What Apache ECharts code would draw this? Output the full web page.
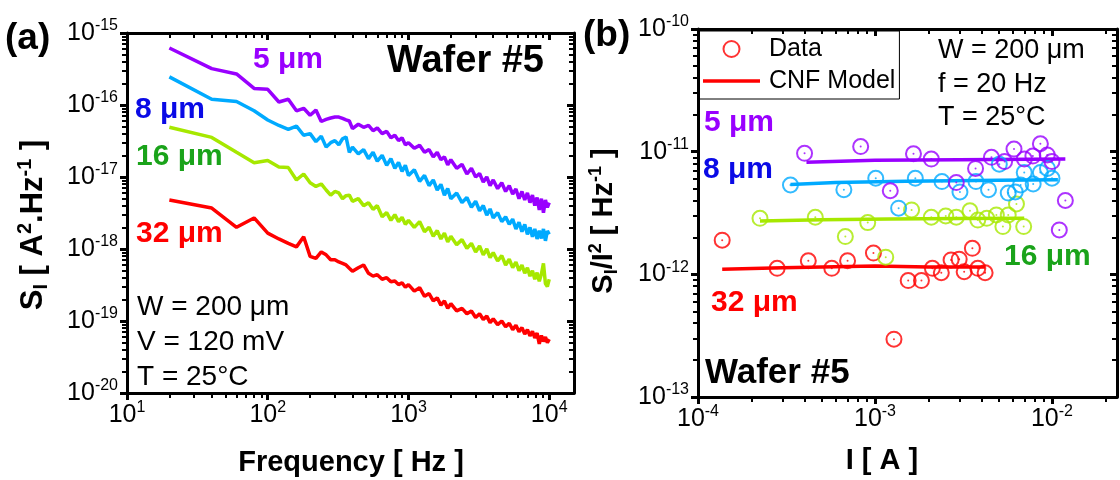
<!DOCTYPE html>
<html><head><meta charset="utf-8">
<script src="https://cdn.jsdelivr.net/npm/echarts@6/dist/echarts.min.js"></script>
<style>html,body{margin:0;padding:0;background:#fff}#c{width:1120px;height:480px}</style>
</head><body><div id="c"></div>
<script>
// ---------- Panel (a) data : noise spectra ----------
const freqA = [20,40,60,80,100,120,140,160,180,200,220,240,260,280,300,320,340,360,380,400,
  440,480,520,560,600,650,700,750,800,850,900,950,1000,
  1100,1200,1300,1400,1500,1600,1700,1800,1900,2000,
  2200,2400,2600,2800,3000,3200,3400,3600,3800,4000,
  4300,4600,4900,5200,5500,5800,6100,6400,6700,7000,
  7300,7600,7900,8200,8500,8800,9100,9400,9700,10000];
const s5 = [6.2e-16,3.2e-16,2.7e-16,1.7e-16,1.65e-16,1.1e-16,1.2e-16,8.3e-17,9.0e-17,7.2e-17,8.5e-17,5.9e-17,6.3e-17,6.6e-17,6.8e-17,6.8e-17,6.5e-17,6.2e-17,6.0e-17,4.7e-17,
  5.4e-17,4.9e-17,5.2e-17,4.4e-17,4.8e-17,4.0e-17,4.3e-17,3.5e-17,3.8e-17,3.2e-17,3.5e-17,2.8e-17,3.0e-17,
  2.5e-17,2.75e-17,2.2e-17,2.4e-17,1.9e-17,2.2e-17,1.74e-17,1.9e-17,1.48e-17,1.74e-17,
  1.32e-17,1.5e-17,1.1e-17,1.32e-17,1.0e-17,1.12e-17,8.5e-18,1.0e-17,7.6e-18,9.1e-18,
  6.9e-18,8.3e-18,6.3e-18,7.6e-18,5.8e-18,6.8e-18,5.0e-18,6.3e-18,4.8e-18,6.0e-18,
  4.4e-18,5.6e-18,4.0e-18,5.2e-18,3.5e-18,5.0e-18,3.2e-18,4.8e-18,3.8e-18,4.4e-18];
const s8 = [2.46e-16,1.2e-16,1.12e-16,8.3e-17,6.2e-17,5.2e-17,4.6e-17,5.1e-17,3.8e-17,4.0e-17,3.1e-17,3.7e-17,2.6e-17,3.0e-17,3.2e-17,2.8e-17,3.4e-17,3.6e-17,2.2e-17,2.6e-17,
  2.1e-17,2.4e-17,1.8e-17,2.2e-17,1.66e-17,2.0e-17,1.45e-17,1.8e-17,1.32e-17,1.6e-17,1.2e-17,1.45e-17,1.05e-17,
  1.26e-17,8.7e-18,1.05e-17,7.6e-18,9.1e-18,6.6e-18,7.9e-18,5.6e-18,6.9e-18,5.0e-18,
  6.0e-18,4.4e-18,5.2e-18,3.8e-18,4.6e-18,3.4e-18,4.0e-18,2.95e-18,3.6e-18,2.7e-18,
  3.2e-18,2.4e-18,2.8e-18,2.2e-18,2.6e-18,1.9e-18,2.35e-18,1.74e-18,2.2e-18,1.6e-18,
  2.0e-18,1.48e-18,1.9e-18,1.38e-18,1.8e-18,1.4e-18,1.9e-18,1.3e-18,1.78e-18,1.6e-18];
const s16 = [4.9e-17,3.55e-17,2.2e-17,1.58e-17,1.7e-17,1.38e-17,1.35e-17,9.1e-18,1.1e-17,8.3e-18,7.4e-18,8.0e-18,6.6e-18,5.6e-18,6.3e-18,6.0e-18,5.0e-18,5.5e-18,5.6e-18,4.6e-18,
  5.0e-18,4.0e-18,4.4e-18,3.55e-18,4.0e-18,2.8e-18,3.2e-18,2.5e-18,3.0e-18,2.4e-18,2.75e-18,2.2e-18,2.5e-18,
  2.0e-18,2.4e-18,1.74e-18,2.0e-18,1.5e-18,1.8e-18,1.38e-18,1.66e-18,1.26e-18,1.5e-18,
  1.15e-18,1.35e-18,1.02e-18,1.2e-18,9.1e-19,1.1e-18,8.3e-19,1.0e-18,7.6e-19,8.9e-19,
  6.8e-19,8.1e-19,6.0e-19,7.2e-19,5.5e-19,6.6e-19,5.0e-19,6.0e-19,4.6e-19,5.5e-19,
  4.2e-19,5.0e-19,3.8e-19,4.7e-19,3.55e-19,4.5e-19,6.3e-19,3.3e-19,3.0e-19,3.8e-19];
const s32 = [4.8e-18,3.7e-18,2.0e-18,2.7e-18,1.66e-18,1.38e-18,1.2e-18,1.07e-18,1.48e-18,7.9e-19,7.4e-19,9.1e-19,8.3e-19,7.1e-19,7.1e-19,6.6e-19,6.3e-19,6.0e-19,5.4e-19,4.9e-19,
  5.5e-19,6.0e-19,4.6e-19,4.2e-19,4.4e-19,3.8e-19,4.0e-19,3.5e-19,3.6e-19,3.2e-19,3.4e-19,2.95e-19,3.2e-19,
  2.6e-19,2.9e-19,2.2e-19,2.4e-19,1.9e-19,2.1e-19,1.66e-19,1.9e-19,1.5e-19,1.74e-19,
  1.38e-19,1.5e-19,1.26e-19,1.38e-19,1.12e-19,1.26e-19,1.05e-19,1.17e-19,9.5e-20,1.07e-19,
  8.9e-20,1.0e-19,8.3e-20,9.3e-20,7.6e-20,8.7e-20,7.1e-20,8.1e-20,6.6e-20,7.6e-20,
  6.2e-20,7.2e-20,5.8e-20,6.8e-20,4.8e-20,6.3e-20,5.2e-20,6.0e-20,5.0e-20,5.6e-20];

// ---------- Panel (b) data : normalized noise vs current ----------
const i5 = [4.0e-4,8.3e-4,1.22e-3,1.65e-3,2.08e-3,2.88e-3,3.7e-3,4.55e-3,5.4e-3,6.1e-3,6.98e-3,7.8e-3,8.6e-3,9.4e-3,1.0e-2,1.1e-2,1.19e-2];
const v5 = [9.7e-12,1.1e-11,4.8e-12,9.6e-12,8.7e-12,5.6e-12,7.3e-12,9.0e-12,8.3e-12,1.05e-11,8.7e-12,9.2e-12,1.16e-11,9.4e-12,8.3e-12,2.3e-12,4.0e-12];
const i8 = [3.33e-4,6.67e-4,1.01e-3,1.36e-3,1.69e-3,2.39e-3,3.02e-3,3.72e-3,4.38e-3,5.04e-3,5.66e-3,6.2e-3,6.65e-3,6.97e-3,7.83e-3,8.6e-3,9.43e-3,1.0e-2];
const v8 = [5.35e-12,4.9e-12,6.07e-12,3.46e-12,6.07e-12,5.7e-12,4.7e-12,5.7e-12,4.9e-12,7.9e-12,4.6e-12,4.7e-12,5.35e-12,6.75e-12,5.46e-12,6.75e-12,7.3e-12,6.07e-12];
const i16 = [2.24e-4,4.6e-4,6.8e-4,9.1e-4,1.15e-3,1.61e-3,2.08e-3,2.51e-3,2.88e-3,3.44e-3,3.81e-3,4.28e-3,4.85e-3,5.28e-3,5.66e-3,6.3e-3,6.92e-3];
const v16 = [2.86e-12,2.92e-12,2.03e-12,2.64e-12,1.38e-12,3.35e-12,2.92e-12,2.99e-12,2.92e-12,3.3e-12,2.77e-12,2.86e-12,3.05e-12,2.45e-12,3.05e-12,3.75e-12,2.45e-12];
const i32 = [1.37e-4,2.8e-4,4.2e-4,5.7e-4,7.0e-4,9.8e-4,1.28e-3,1.54e-3,1.83e-3,2.11e-3,2.37e-3,2.69e-3,2.99e-3,3.19e-3,3.55e-3,3.81e-3,4.19e-3];
const v32 = [1.9e-12,1.12e-12,1.29e-12,1.12e-12,1.29e-12,1.49e-12,2.96e-13,8.9e-13,8.9e-13,1.12e-12,1.03e-12,1.31e-12,1.33e-12,1.05e-12,1.63e-12,1.12e-12,1.03e-12];
// CNF model curves
const m5I = [4.1e-4,1e-3,3e-3,1.19e-2];            const m5V = [8.2e-12,8.5e-12,8.6e-12,8.7e-12];
const m8I = [3.33e-4,6e-4,1.5e-3,5e-3,1.08e-2];    const m8V = [5.4e-12,5.6e-12,5.75e-12,5.85e-12,5.9e-12];
const m16I = [2.24e-4,5e-4,1.2e-3,3e-3,6.97e-3];   const m16V = [2.72e-12,2.78e-12,2.83e-12,2.85e-12,2.86e-12];
const m32I = [1.37e-4,3e-4,1e-3,2e-3,4.19e-3];     const m32V = [1.1e-12,1.13e-12,1.17e-12,1.15e-12,1.15e-12];

// ---------- ticks ----------
const xTicksA = [10,100,1000,10000];
const yTicksA = [1e-20,1e-19,1e-18,1e-17,1e-16,1e-15];
const xTicksB = [1e-4,1e-3,1e-2];
const yTicksB = [1e-13,1e-12,1e-11,1e-10];

const FONT = 'Liberation Sans, Arial, Helvetica, sans-serif';
const cP = '#9900ff', cB = '#00aaff', cG = '#a6e800', cR = '#ff0000';
const lP = '#9900ff', lB = '#0a0ae6', lG = '#1aa31a', lR = '#ff0000';

function minorTicks(majors, max) {
  const out = [];
  majors.forEach(m => { for (let k = 2; k <= 9; k++) { if (k * m <= max) out.push(k * m); } });
  return out;
}
function supLabel(v) { const e = Math.round(Math.log10(v)); return '{n|10}{s|' + e + '}'; }
const labelRich = {
  n: {fontSize: 25, fontFamily: FONT, color: '#000', lineHeight: 30},
  s: {fontSize: 16, fontFamily: FONT, color: '#000', verticalAlign: 'top', lineHeight: 16}
};
function axisSet(dim, gi, min, max, majors) {
  const isX = dim === 'x';
  const minors = minorTicks(majors, max);
  const p0 = isX ? 'bottom' : 'left', p1 = isX ? 'top' : 'right';
  const base = {type: 'log', logBase: 10, gridIndex: gi, min, max, splitLine: {show: false}, silent: true};
  const line = {show: true, onZero: false, lineStyle: {color: '#000', width: 3}};
  return [
    Object.assign({}, base, {position: p0, axisLine: line,
      axisTick: {show: true, customValues: majors, length: 7, inside: false, lineStyle: {color: '#000', width: 3}},
      axisLabel: {show: true, customValues: majors, formatter: supLabel, rich: labelRich, margin: isX ? 7 : 9}}),
    Object.assign({}, base, {position: p0, axisLine: {show: false, onZero: false},
      axisTick: {show: true, customValues: minors, length: 5, inside: false, lineStyle: {color: '#000', width: 2}},
      axisLabel: {show: false}}),
    Object.assign({}, base, {position: p1, axisLine: line,
      axisTick: {show: true, customValues: majors, length: 7, inside: true, lineStyle: {color: '#000', width: 3}},
      axisLabel: {show: false}}),
    Object.assign({}, base, {position: p1, axisLine: {show: false, onZero: false},
      axisTick: {show: true, customValues: minors, length: 5, inside: true, lineStyle: {color: '#000', width: 2}},
      axisLabel: {show: false}})
  ];
}

function lineA(name, ys, c) {
  return {name, type: 'line', xAxisIndex: 0, yAxisIndex: 0, data: freqA.map((f, i) => [f, ys[i]]),
    symbol: 'none', showSymbol: false, lineStyle: {color: c, width: 3.5}, itemStyle: {color: c}, z: 3, silent: true};
}
function scat(name, xs, ys, c) {
  const d = xs.map((x, i) => [x, ys[i]]);
  return [
    {name, type: 'scatter', xAxisIndex: 4, yAxisIndex: 4, data: d, symbol: 'circle', symbolSize: 15,
      itemStyle: {color: 'rgba(0,0,0,0)', borderColor: c, borderWidth: 2}, z: 4, silent: true},
    {name: name + ' dot', type: 'scatter', xAxisIndex: 4, yAxisIndex: 4, data: d, symbol: 'circle', symbolSize: 2,
      itemStyle: {color: c}, z: 4, silent: true}
  ];
}
function model(name, xs, ys, c) {
  return {name, type: 'line', xAxisIndex: 4, yAxisIndex: 4, data: xs.map((x, i) => [x, ys[i]]),
    symbol: 'none', showSymbol: false, lineStyle: {color: c, width: 3.5}, itemStyle: {color: c}, z: 3, silent: true};
}
function txt(x, y, text, o) {
  o = o || {};
  const st = {text, fill: o.color || '#000', fontSize: o.size || 28, fontWeight: o.bold ? 'bold' : 'normal',
    fontFamily: FONT, align: o.align || 'left', verticalAlign: 'middle',
    textAlign: o.align || 'left', textVerticalAlign: 'middle'};
  if (o.rich) st.rich = o.rich;
  return {type: 'text', x, y, rotation: o.rot || 0, z: 100, silent: true, style: st};
}
const titleRichA = {
  b: {fontSize: 31, fontWeight: 'bold', fontFamily: FONT, lineHeight: 36},
  sub: {fontSize: 20, fontWeight: 'bold', fontFamily: FONT, lineHeight: 20, verticalAlign: 'bottom'},
  sup: {fontSize: 20, fontWeight: 'bold', fontFamily: FONT, lineHeight: 20, verticalAlign: 'top'}
};
const titleRichB = {
  b: {fontSize: 29, fontWeight: 'bold', fontFamily: FONT, lineHeight: 34},
  sub: {fontSize: 18, fontWeight: 'bold', fontFamily: FONT, lineHeight: 18, verticalAlign: 'bottom'},
  sup: {fontSize: 18, fontWeight: 'bold', fontFamily: FONT, lineHeight: 18, verticalAlign: 'top'}
};

const xAxes = [].concat(axisSet('x', 0, 10, 15000, xTicksA), axisSet('x', 1, 1e-4, 0.0233, xTicksB));
const yAxes = [].concat(axisSet('y', 0, 1e-20, 1e-15, yTicksA), axisSet('y', 1, 1e-13, 1e-10, yTicksB));

const series = [
  lineA('32 um', s32, cR), lineA('16 um', s16, cG), lineA('8 um', s8, cB), lineA('5 um', s5, cP),
  model('CNF Model', m32I, m32V, cR), model('m16', m16I, m16V, cG), model('m8', m8I, m8V, cB), model('m5', m5I, m5V, cP)
].concat(scat('Data', i32, v32, cR), scat('d16', i16, v16, cG), scat('d8', i8, v8, cB), scat('d5', i5, v5, cP));

const graphics = [
  txt(5, 39, '(a)', {bold: true, size: 37}),
  txt(253, 60, '5 μm', {bold: true, size: 30, color: lP}),
  txt(135, 110, '8 μm', {bold: true, size: 30, color: lB}),
  txt(136, 157, '16 μm', {bold: true, size: 30, color: lG}),
  txt(136, 234, '32 μm', {bold: true, size: 30, color: lR}),
  txt(544, 62, 'Wafer #5', {bold: true, size: 38, align: 'right'}),
  txt(137, 307, 'W = 200 μm', {size: 28}),
  txt(137, 342, 'V = 120 mV', {size: 28}),
  txt(137, 377, 'T = 25°C', {size: 28}),
  txt(351, 463, 'Frequency [ Hz ]', {bold: true, size: 29, align: 'center'}),
  txt(33, 225, '{b|S}{sub|I}{b| [ A}{sup|2}{b|.Hz}{sup|-1}{b| ]}', {bold: true, size: 31, align: 'center', rot: Math.PI / 2, rich: titleRichA}),
  txt(583, 36, '(b)', {bold: true, size: 37}),
  txt(704, 123, '5 μm', {bold: true, size: 30, color: lP}),
  txt(703, 170, '8 μm', {bold: true, size: 30, color: lB}),
  txt(1004, 257, '16 μm', {bold: true, size: 30, color: lG}),
  txt(711, 303, '32 μm', {bold: true, size: 30, color: lR}),
  txt(705, 373, 'Wafer #5', {bold: true, size: 35}),
  txt(938, 51, 'W = 200 μm', {size: 27}),
  txt(938, 85, 'f = 20 Hz', {size: 27}),
  txt(938, 118, 'T = 25°C', {size: 27}),
  txt(882, 461, 'I [ A ]', {bold: true, size: 29, align: 'center'}),
  txt(604, 221, '{b|S}{sub|I}{b|/I}{sup|2}{b| [ Hz}{sup|-1}{b| ]}', {bold: true, size: 29, align: 'center', rot: Math.PI / 2, rich: titleRichB})
];

const chart = echarts.init(document.getElementById('c'), null, {renderer: 'canvas', devicePixelRatio: 1});
chart.setOption({
  animation: false,
  backgroundColor: '#fff',
  grid: [
    {left: 127, top: 33, width: 447, height: 360, containLabel: false, outerBoundsMode: 'none'},
    {left: 698, top: 29, width: 419, height: 368, containLabel: false, outerBoundsMode: 'none'}
  ],
  xAxis: xAxes,
  yAxis: yAxes,
  legend: {
    show: true, left: 698, top: 31, orient: 'vertical', padding: [5, 4, 5, 5], itemGap: 6,
    itemWidth: 57, itemHeight: 16, borderColor: '#000', borderWidth: 1, selectedMode: false,
    textStyle: {fontSize: 25, fontFamily: FONT, color: '#000', padding: [0, 0, 0, 4], lineHeight: 26},
    data: [
      {name: 'Data', icon: 'circle', itemStyle: {color: 'rgba(0,0,0,0)', borderColor: cR, borderWidth: 2}},
      {name: 'CNF Model', icon: 'path://M0,0L57,0L57,3.5L0,3.5Z', itemStyle: {color: cR, borderWidth: 0}}
    ]
  },
  series,
  graphic: graphics
});
</script></body></html>
